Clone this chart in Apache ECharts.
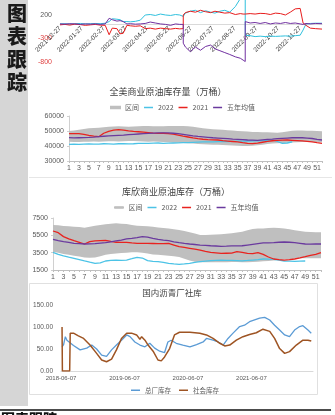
<!DOCTYPE html>
<html><head><meta charset="utf-8">
<script src="https://cdn.jsdelivr.net/npm/echarts@6/dist/echarts.min.js"></script>
<style>html,body{margin:0;padding:0;background:#fff;}#c{width:335px;height:415px;}</style>
</head><body><div id="c"></div>
<script>
// ---------- top (cropped) spread chart ----------
const topTickLabels = ['2021-12-27','2022-01-27','2022-02-27','2022-03-27','2022-04-27','2022-05-27','2022-06-27','2022-07-27','2022-08-27','2022-09-27','2022-10-27','2022-11-27'];
const topYTicks = [-800,-300,200];
const topDates = ['2021-12-27','2022-01-03','2022-01-10','2022-01-17','2022-01-25','2022-02-01','2022-02-08','2022-02-15','2022-02-22','2022-03-01',
'2022-03-06','2022-03-10','2022-03-16','2022-03-20','2022-03-24','2022-03-29','2022-04-03','2022-04-10','2022-04-17','2022-04-24',
'2022-05-01','2022-05-08','2022-05-15','2022-05-22','2022-05-29','2022-06-05','2022-06-11','2022-06-16','2022-06-16','2022-06-19',
'2022-06-26','2022-07-03','2022-07-10','2022-07-17','2022-07-24','2022-07-30','2022-08-06','2022-08-13','2022-08-20','2022-08-28',
'2022-09-04','2022-09-08','2022-09-11','2022-09-11','2022-09-18','2022-09-25','2022-10-02','2022-10-09','2022-10-16','2022-10-23',
'2022-10-30','2022-11-06','2022-11-13','2022-11-20','2022-11-27','2022-12-01','2022-12-05','2022-12-11','2022-12-18','2022-12-27'];
const topCyan = [10,15,5,15,20,10,15,20,15,25, 60,120,110,100,60,60,55,65,90,200, 210,190,220,200,190,210,200,170,170,240,
 280,300,250,290,260,240,280,300,260,380, 550,800,900,-230,-240,-260,-250,-260,-250,-255, -250,-245,-250,-240,-230,-120,10,20,25,25];
const topRed = [-10,0,-15,5,-5,-20,-10,0,-15,-20, -220,-80,-90,-200,-190,-20,-30,-40,-30,-90, -80,-100,-80,-90,-100,-85,-95,-90,200,250,
 280,260,300,270,250,280,260,240,250,210, 230,220,220,220,230,220,235,230,210,240, 230,200,260,330,340,30,-20,-80,-90,-100];
const topPurple = [10,5,15,10,0,10,5,10,0,10, 130,100,70,80,60,10,15,5,10,20, 50,30,10,0,-20,10,0,0,-400,-480,
 -580,-480,-550,-470,-440,-520,-560,-600,-640,-690, -720,-760,-790,60,30,40,20,40,10,30, 20,40,20,30,10,0,20,10,20,15];

// ---------- US commercial crude ----------
const weeks = ['1','2','3','4','5','6','7','8','9','10','11','12','13','14','15','16','17','18','19','20','21','22','23','24','25','26',
'27','28','29','30','31','32','33','34','35','36','37','38','39','40','41','42','43','44','45','46','47','48','49','50','51','52'];
const usHigh = [50000,50300,50800,51300,51800,52000,52200,52500,52800,53000,53100,53000,52900,53000,53200,53300,53300,53200,53100,53200,
 53300,53400,53400,53300,53100,52800,52300,51900,51500,51200,51000,50800,50500,50300,50000,49800,49600,49400,49300,49200,
 49100,49000,48900,49200,49700,50200,50400,50300,50200,50100,50000,49800];
const usLow = [42800,42700,42600,42800,42900,43000,42900,43000,43200,43100,43000,43200,43400,43300,43200,43000,42900,43000,42800,42600,
 42500,42300,42100,42000,41800,41600,41400,41200,41000,40900,40800,40600,40500,40300,40200,40000,40000,40200,40500,40900,
 41300,41600,41800,42000,42200,42300,42500,42600,42700,42700,42600,42500];
const us2022 = [41100,41200,41100,41300,41400,41200,41300,41500,41400,41300,41500,41600,41400,41500,41700,41800,41700,41900,42000,41800,
 41900,42000,42100,42300,42200,42400,42600,42700,42700,42800,42900,42900,43000,43100,43200,43300,43300,43400,43500,43600,
 43800,44000,43000,41800,42000,42800];
const us2021 = [48200,48300,48200,47700,47100,46600,46200,48500,49800,50600,50900,50600,50100,49700,49500,49200,48900,48600,48400,48500,
 48300,47900,47300,46600,46000,45400,44900,44500,44200,44100,44000,43600,43300,43000,42700,42200,41800,41600,41900,42500,
 43100,43500,43800,43900,44000,43800,43600,43400,43100,42700,42200,41800];
const us5yr = [45600,45400,45500,45600,45700,45900,46200,46500,46700,46900,47100,47300,47600,47800,48000,48200,48400,48600,48700,48700,
 48700,48500,48200,47800,47300,46800,46400,46100,45800,45500,45300,45100,44900,44600,44400,44200,44000,43900,43800,44100,
 44400,44600,44900,45100,45300,45500,45600,45500,45300,45000,44400,44000];

// ---------- Cushing ----------
const cuHigh = [6700,6650,6580,6550,6500,6450,6380,6500,6620,6700,6770,6830,6880,6850,6800,6700,6620,6580,6540,6480,
 6400,6350,6300,6200,6120,6000,5850,5700,5540,5540,5560,5600,5620,5680,5730,5820,5920,6080,6230,6280,
 6300,6340,6380,6350,6300,6200,6100,6000,5920,5880,5850,5850];
const cuLow = [3600,3500,3350,3250,3150,3050,2950,2900,2950,3100,3250,3350,3400,3450,3500,3550,3550,3500,3400,3300,
 3250,3200,3150,3100,3000,2800,2600,2450,2400,2380,2380,2380,2400,2400,2420,2420,2400,2400,2420,2450,
 2500,2550,2600,2650,2700,2750,2800,2850,2850,2850,2850,2850];
const cu2022 = [3540,3300,3120,2980,2850,2700,2540,2400,2270,2320,2540,2600,2650,2620,2650,2800,2960,2880,2580,2500,
 2460,2380,2270,2200,2150,2200,2270,2380,2460,2520,2580,2620,2650,2620,2600,2580,2560,2600,2650,2700,
 2770,2750,2720,2650,2540,2520,2500,2520,2540];
const cu2021 = [6000,5800,5350,5100,4880,4700,4500,4770,4850,4900,4920,4800,4700,4690,4680,4620,4580,4580,4570,4560,
 4540,4550,4560,4380,4190,4100,4000,3900,3800,3650,3540,3480,3420,3430,3440,3620,3530,3420,3380,3500,
 3300,3000,2770,2700,2650,2700,2770,2900,3040,3200,3300,3500];
const cu5yr = [5040,4900,4770,4680,4580,4540,4500,4520,4550,4600,4650,4750,4850,4950,5080,5150,5230,5350,5300,5150,
 5040,4950,4880,4750,4650,4570,4500,4440,4380,4340,4300,4270,4230,4250,4280,4290,4300,4380,4460,4540,
 4620,4640,4650,4700,4730,4700,4650,4580,4500,4480,4500,4500];

// ---------- Asphalt inventories ----------
const asphaltTicks = ['2018-06-07','2019-06-07','2020-06-07','2021-06-07'];
const factoryDates = ['2018-06-13','2018-06-22','2018-07-02','2018-07-11','2018-07-20','2018-08-18','2018-09-25','2018-11-02','2018-12-01','2018-12-29',
 '2019-01-27','2019-02-24','2019-03-25','2019-04-22','2019-05-21','2019-06-20','2019-07-09','2019-08-06','2019-09-04','2019-10-03',
 '2019-10-31','2019-11-28','2019-12-27','2020-01-24','2020-02-12','2020-03-02','2020-03-31','2020-05-08','2020-06-18','2020-07-26',
 '2020-09-02','2020-09-21','2020-10-29','2020-11-27','2020-12-26','2021-01-23','2021-02-21','2021-03-31','2021-04-28','2021-05-27',
 '2021-06-25','2021-07-24','2021-08-22','2021-09-20','2021-10-18','2021-11-16','2021-12-15','2022-01-12','2022-02-10','2022-03-11',
 '2022-03-30','2022-04-28','2022-05-17'];
const factoryValues = [55,60,78,70,72,58,48,52,59,50, 36,33,48,59,70,82,78,66,59,55, 63,52,45,42,66,70,63,59,55,60,
 66,74,70,66,59,74,86,101,104,112, 116,120,122,116,104,93,82,78,93,101, 103,93,86];
const socialDates = ['2018-06-13','2018-06-15','2018-07-27','2018-07-30','2018-08-18','2018-09-15','2018-10-15','2018-11-21','2018-12-29','2019-01-27',
 '2019-02-24','2019-03-25','2019-04-22','2019-05-21','2019-06-20','2019-07-18','2019-08-16','2019-09-04','2019-09-14','2019-10-03',
 '2019-10-21','2019-11-19','2019-12-17','2020-01-05','2020-01-24','2020-02-22','2020-03-21','2020-04-19','2020-06-18','2020-08-14',
 '2020-09-21','2020-10-29','2020-12-07','2021-01-04','2021-02-02','2021-03-12','2021-04-19','2021-05-27','2021-07-05','2021-08-12',
 '2021-09-20','2021-10-18','2021-11-16','2021-12-15','2022-01-12','2022-02-20','2022-03-30','2022-04-28','2022-05-17'];
const socialValues = [100,0,0,86,86,80,74,59,40,25, 21,27,48,74,86,86,82,72,78,70, 59,45,25,23,32,51,82,88,88,86,
 82,74,63,57,59,70,78,83,87,95, 90,74,51,40,44,59,70,70,68];

// ---------- helpers ----------
function monthIdx(s){
  const [y,m,d]=s.split('-').map(Number);
  let ay=y, am=m; if(d<27){am=m-1; if(am<1){am=12; ay=y-1;}}
  let ny=ay, nm=am+1; if(nm>12){nm=1; ny++;}
  const a=Date.UTC(ay,am-1,27), n=Date.UTC(ny,nm-1,27), t=Date.UTC(y,m-1,d);
  return (ay-2021)*12+(am-12)+(t-a)/(n-a);
}
function yearIdx(s){
  const [y,m,d]=s.split('-').map(Number);
  return (Date.UTC(y,m-1,d)-Date.UTC(2018,5,7))/(365.25*864e5);
}
const CJK='"Noto Sans CJK SC"';
const NUM='"Liberation Sans"';
const C_CYAN='#4cc3e6', C_RED='#e8231f', C_PUR='#6a3a9e', C_BAND='#bfbfbf';
const TOP_CYAN='#2fc0dd', TOP_RED='#e81c1c', TOP_PUR='#7030a0';

// top chart geometry: plot rows 0..62, value -800 at bottom, 0.047 px per unit
const TOP_H = 62, TOP_MIN = -800, TOP_MAX = 519;
const TOP_ZERO_OFFSET = -(TOP_H * (0 - TOP_MIN) / (TOP_MAX - TOP_MIN));

function line(name, data, color, xi, yi, w){
  return {type:'line', name, data, xAxisIndex:xi, yAxisIndex:yi, symbol:'none', showSymbol:false,
    lineStyle:{color, width:w}, itemStyle:{color}, silent:true};
}
function band(name, lo, hi, stack, xi, yi){
  return [
    {type:'line', name:'_base'+stack, data:lo, stack, xAxisIndex:xi, yAxisIndex:yi, symbol:'none',
      lineStyle:{width:0, opacity:0}, itemStyle:{color:'#fff'}, silent:true},
    {type:'line', name, data:hi.map((v,i)=>v-lo[i]), stack, xAxisIndex:xi, yAxisIndex:yi, symbol:'none',
      lineStyle:{width:0, color:C_BAND}, itemStyle:{color:C_BAND}, areaStyle:{color:C_BAND, opacity:1}, silent:true}
  ];
}
const lbl = (o)=>Object.assign({fontSize:7, color:'#595959', fontFamily:NUM}, o);
const legendText = {fontSize:7, color:'#595959', fontFamily:CJK};

const chart = echarts.init(document.getElementById('c'));
const option = {
  animation:false,
  backgroundColor:'#fff',
  grid:[
    {left:60, top:0, width:262, height:TOP_H},
    {left:69, top:116, width:253, height:45},
    {left:53, top:218, width:268, height:52},
    {left:61, top:305, width:252, height:66}
  ],
  xAxis:[
    {type:'value', gridIndex:0, min:0, max:12, interval:1, position:'bottom', offset:TOP_ZERO_OFFSET,
      axisLine:{onZero:false, lineStyle:{color:'#d9d9d9'}}, axisTick:{show:false}, splitLine:{show:false},
      axisLabel:lbl({rotate:45, fontSize:6.5, color:'#404040', margin:3,
        formatter:v=>topTickLabels[Math.round(v)]||''})},
    {type:'category', gridIndex:1, data:weeks, boundaryGap:false,
      axisLine:{lineStyle:{color:'#bfbfbf'}}, axisTick:{show:true, length:2, interval:0, lineStyle:{color:'#bfbfbf'}},
      axisLabel:lbl({interval:1, margin:4})},
    {type:'category', gridIndex:2, data:weeks, boundaryGap:false,
      axisLine:{lineStyle:{color:'#bfbfbf'}}, axisTick:{show:true, length:2, interval:0, lineStyle:{color:'#bfbfbf'}},
      axisLabel:lbl({interval:1, margin:4})},
    {type:'value', gridIndex:3, min:0, max:3.97, interval:1,
      axisLine:{lineStyle:{color:'#d9d9d9'}}, axisTick:{show:false}, splitLine:{show:false},
      axisLabel:lbl({fontSize:6, margin:4, formatter:v=>(Math.abs(v-Math.round(v))<1e-6 && asphaltTicks[Math.round(v)])||''})}
  ],
  yAxis:[
    {type:'value', gridIndex:0, min:TOP_MIN, max:TOP_MAX, interval:500,
      axisLine:{show:false}, axisTick:{show:false}, splitLine:{show:false},
      axisLabel:lbl({margin:8, showMaxLabel:false,
        formatter:v=>topYTicks.indexOf(Math.round(v))>=0 ? String(Math.round(v)) : '',
        color:v=>(Number(v)<0?'#e04040':'#595959')})},
    {type:'value', gridIndex:1, min:30000, max:60000, interval:10000,
      axisLine:{show:true, lineStyle:{color:'#d0d0d0'}}, axisTick:{show:true, length:2, lineStyle:{color:'#d0d0d0'}}, splitLine:{show:false},
      axisLabel:lbl({margin:5, formatter:v=>String(v)})},
    {type:'value', gridIndex:2, min:1500, max:7500, interval:2000,
      axisLine:{show:true, lineStyle:{color:'#d0d0d0'}}, axisTick:{show:true, length:2, lineStyle:{color:'#d0d0d0'}}, splitLine:{show:false},
      axisLabel:lbl({margin:5, formatter:v=>String(v)})},
    {type:'value', gridIndex:3, min:0, max:150, interval:50,
      axisLine:{show:false}, axisTick:{show:false}, splitLine:{show:false},
      axisLabel:lbl({fontSize:6.5, margin:8, formatter:v=>Number(v).toFixed(2)})}
  ],
  legend:[
    {top:104, left:110, padding:0, itemWidth:9, itemHeight:1.5, itemGap:5, icon:'rect', textStyle:legendText,
      data:[{name:'区间', itemStyle:{borderWidth:2, borderColor:C_BAND}},'2022','2021','五年均值']},
    {top:204, left:114, padding:0, itemWidth:9, itemHeight:1.5, itemGap:5, icon:'rect', textStyle:legendText,
      data:[{name:'区间', itemStyle:{borderWidth:1, borderColor:C_BAND}},'2022','2021','五年均值']},
    {top:387, left:131, padding:0, itemWidth:9, itemHeight:1.5, itemGap:8, icon:'rect',
      textStyle:Object.assign({}, legendText, {fontSize:6.5}),
      data:['总厂库存','社会库存']}
  ],
  graphic:[
    {type:'rect', silent:true, z:-1, shape:{x:0,y:0,width:28,height:406}, style:{fill:'#d6d6d6'}},
    {type:'text', silent:true, style:{text:'图', x:17, y:13, textAlign:'center', textVerticalAlign:'middle', font:'900 20px '+CJK, fill:'#1a1a1a'}},
    {type:'text', silent:true, style:{text:'表', x:17, y:36, textAlign:'center', textVerticalAlign:'middle', font:'900 20px '+CJK, fill:'#1a1a1a'}},
    {type:'text', silent:true, style:{text:'跟', x:17, y:59, textAlign:'center', textVerticalAlign:'middle', font:'900 20px '+CJK, fill:'#1a1a1a'}},
    {type:'text', silent:true, style:{text:'踪', x:17, y:82, textAlign:'center', textVerticalAlign:'middle', font:'900 20px '+CJK, fill:'#1a1a1a'}},
    {type:'line', silent:true, shape:{x1:29,y1:177.5,x2:332,y2:177.5}, style:{stroke:'#e6e6e6', lineWidth:1}},
    {type:'rect', silent:true, shape:{x:29.5,y:283.5,width:288,height:111}, style:{fill:'none', stroke:'#e0e0e0', lineWidth:1}},
    {type:'line', silent:true, shape:{x1:0,y1:410,x2:331,y2:410}, style:{stroke:'#111', lineWidth:1.3}},
    {type:'text', silent:true, style:{text:'图表跟踪', x:1, y:411.5, textVerticalAlign:'top', font:'900 14px '+CJK, fill:'#111'}},
    {type:'text', silent:true, style:{text:'全美商业原油库存量（万桶）', x:168, y:92, textAlign:'center', textVerticalAlign:'middle', font:'9px '+CJK, fill:'#404040'}},
    {type:'text', silent:true, style:{text:'库欣商业原油库存（万桶）', x:176, y:192, textAlign:'center', textVerticalAlign:'middle', font:'9px '+CJK, fill:'#404040'}},
    {type:'text', silent:true, style:{text:'国内沥青厂社库', x:172, y:293, textAlign:'center', textVerticalAlign:'middle', font:'8.5px '+CJK, fill:'#404040'}}
  ],
  series:[
    line('s1', topDates.map((d,i)=>[monthIdx(d), topCyan[i]]), TOP_CYAN, 0, 0, 1),
    line('s2', topDates.map((d,i)=>[monthIdx(d), topRed[i]]), TOP_RED, 0, 0, 1),
    line('s3', topDates.map((d,i)=>[monthIdx(d), topPurple[i]]), TOP_PUR, 0, 0, 1),
    ...band('区间', usLow, usHigh, 'us', 1, 1),
    line('2022', us2022, C_CYAN, 1, 1, 1.3),
    line('2021', us2021, C_RED, 1, 1, 1.3),
    line('五年均值', us5yr, C_PUR, 1, 1, 1.3),
    ...band('区间', cuLow, cuHigh, 'cu', 2, 2),
    line('2022', cu2022, C_CYAN, 2, 2, 1.3),
    line('2021', cu2021, C_RED, 2, 2, 1.3),
    line('五年均值', cu5yr, C_PUR, 2, 2, 1.3),
    line('总厂库存', factoryDates.map((d,i)=>[yearIdx(d), factoryValues[i]]), '#5b9bd5', 3, 3, 1.3),
    line('社会库存', socialDates.map((d,i)=>[yearIdx(d), socialValues[i]]), '#9e5423', 3, 3, 1.5)
  ]
};
chart.setOption(option);
</script>
</body></html>
